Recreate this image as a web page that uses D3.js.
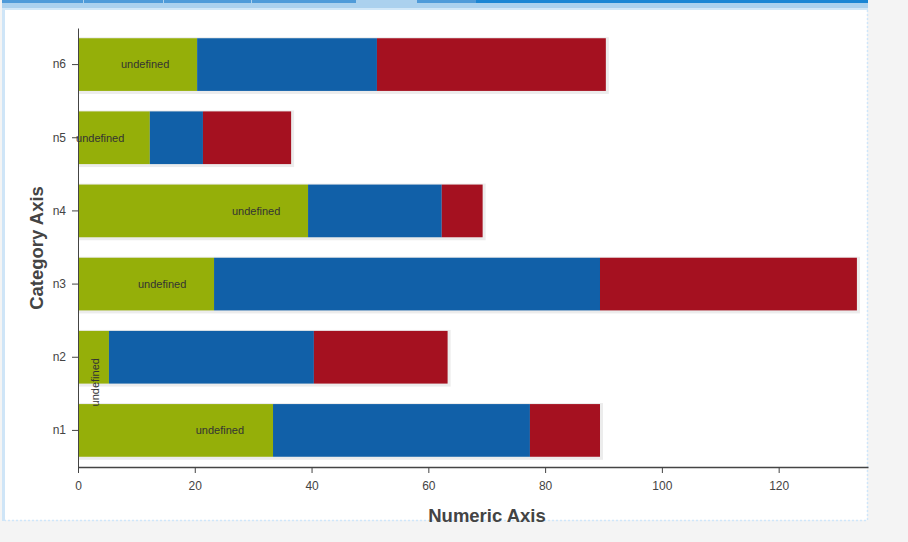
<!DOCTYPE html>
<html>
<head>
<meta charset="utf-8">
<script src="https://cdnjs.cloudflare.com/ajax/libs/d3/7.8.5/d3.min.js"></script>
<style>
  body { margin: 0; background: #f4f4f4; font-family: "Liberation Sans", Arial, sans-serif; }
  svg { display: block; }
</style>
</head>
<body>
<script>
// chart data
var categories = ['n1', 'n2', 'n3', 'n4', 'n5', 'n6'];
var greenValues = [33.4, 5.3, 23.3, 39.4, 12.3, 20.4];
var blueValues = [44.0, 35.1, 66.1, 22.9, 9.1, 30.8];
var redValues = [12.0, 22.9, 44.0, 7.0, 15.1, 39.2];
var labelAt = [24.3, 2.9, 14.4, 30.5, 3.8, 11.5];   // where the "undefined" label sits, in value units
var xTicks = [0, 20, 40, 60, 80, 100, 120];
var xMax = 135.3;

var svgCanvasW = 908, svgCanvasH = 542;
var margin = {left: 78, right: 868, top: 28, bottom: 467};

var mainLayout = d3.select('body')
    .append('svg')
    .attr('width', svgCanvasW)
    .attr('height', svgCanvasH);

//page frame: tab strip and white panel
mainLayout.append('rect').attr('x', 2).attr('y', 0).attr('width', 866).attr('height', 10).style('fill', '#d2e8f8');
mainLayout.append('rect').attr('x', 2).attr('y', 0).attr('width', 866).attr('height', 8).style('fill', '#abd1ee');
var tabs = [[2, 83, '#4f9bd9'], [84, 163, '#4f9bd9'], [164, 251, '#4f9bd9'], [252, 356, '#4f9bd9'],
            [356, 416, '#abd1ee'], [417, 476, '#4f9bd9'], [476, 868, '#1b86d4']];
mainLayout.selectAll('.tab').data(tabs).enter().append('rect')
    .attr('x', function (d) { return d[0]; })
    .attr('y', 0)
    .attr('width', function (d) { return d[1] - d[0]; })
    .attr('height', 3)
    .style('fill', function (d) { return d[2]; });
mainLayout.append('rect').attr('x', 2).attr('y', 10).attr('width', 3).attr('height', 511).style('fill', '#cfe5f7');
mainLayout.append('rect').attr('x', 5).attr('y', 10).attr('width', 862).attr('height', 510).style('fill', '#fff');
mainLayout.append('path')
    .attr('d', 'M867.5,10V520.5H5')
    .style('fill', 'none')
    .style('stroke', '#cfe6fa')
    .style('stroke-width', 1.5)
    .style('stroke-dasharray', '2,2');

var x = d3.scaleLinear().domain([0, xMax]).range([margin.left, margin.right]);
var y = d3.scaleBand().domain(categories.slice().reverse())
    .range([margin.top, margin.bottom]).paddingInner(0.28).paddingOuter(0.14);

var series = [
    {name: 'green', values: greenValues, color: '#95af09'},
    {name: 'blue', values: blueValues, color: '#1160a8'},
    {name: 'red', values: redValues, color: '#a51120'}
];

var rows = categories.map(function (c, i) {
    return {cat: c, green: greenValues[i], blue: blueValues[i], red: redValues[i], label: labelAt[i]};
});
var stack = d3.stack().keys(['green', 'blue', 'red'])(rows);

//bar shadows
mainLayout.append('g').selectAll('rect').data(rows).enter().append('rect')
    .attr('x', margin.left)
    .attr('y', function (d) { return y(d.cat) - 1; })
    .attr('width', function (d) { return x(d.green + d.blue + d.red) - margin.left + 3; })
    .attr('height', y.bandwidth() + 4)
    .style('fill', '#ececec');

//stacked bars
mainLayout.append('g').selectAll('g').data(stack).enter().append('g')
    .style('fill', function (d, i) { return series[i].color; })
    .selectAll('rect').data(function (d) { return d; }).enter().append('rect')
    .attr('x', function (d) { return x(d[0]); })
    .attr('y', function (d) { return y(d.data.cat); })
    .attr('width', function (d) { return x(d[1]) - x(d[0]); })
    .attr('height', y.bandwidth());

//axes
var xAxis = mainLayout.append('g')
    .attr('transform', 'translate(0,' + margin.bottom + ')')
    .call(d3.axisBottom(x).tickValues(xTicks).tickSizeOuter(0).tickPadding(8));
xAxis.select('.domain').style('stroke', '#444').style('stroke-width', 1.5);
xAxis.selectAll('.tick line').style('stroke', '#444');
xAxis.selectAll('text').style('font-size', '12px').style('fill', '#444')
    .style('font-family', '"Liberation Sans", Arial, sans-serif');

var yAxis = mainLayout.append('g')
    .attr('transform', 'translate(' + margin.left + ',0)')
    .call(d3.axisLeft(y).tickSizeOuter(0).tickPadding(6));
yAxis.select('.domain').style('stroke', '#444');
yAxis.selectAll('.tick line').style('stroke', '#444');
yAxis.selectAll('text').style('font-size', '12px').style('fill', '#444')
    .style('font-family', '"Liberation Sans", Arial, sans-serif');

//"undefined" value labels
mainLayout.append('g').selectAll('text').data(rows).enter().append('text')
    .attr('transform', function (d) {
        var cx = x(d.label), cy = y(d.cat) + y.bandwidth() / 2;
        if (d.cat === 'n2') return 'translate(' + cx + ',' + (cy + 25) + ') rotate(-90)';
        return 'translate(' + cx + ',' + cy + ')';
    })
    .attr('dy', '0.35em')
    .attr('text-anchor', 'middle')
    .style('font-size', '11px')
    .style('fill', '#333')
    .text('undefined');

//axis titles
mainLayout.append('text')
    .attr('x', 487)
    .attr('y', 522)
    .attr('text-anchor', 'middle')
    .style('font-size', '18.5px')
    .style('font-weight', 'bold')
    .style('fill', '#444')
    .text('Numeric Axis');

mainLayout.append('text')
    .attr('transform', 'translate(43,248) rotate(-90)')
    .attr('text-anchor', 'middle')
    .style('font-size', '18.5px')
    .style('font-weight', 'bold')
    .style('fill', '#444')
    .text('Category Axis');
</script>
</body>
</html>
